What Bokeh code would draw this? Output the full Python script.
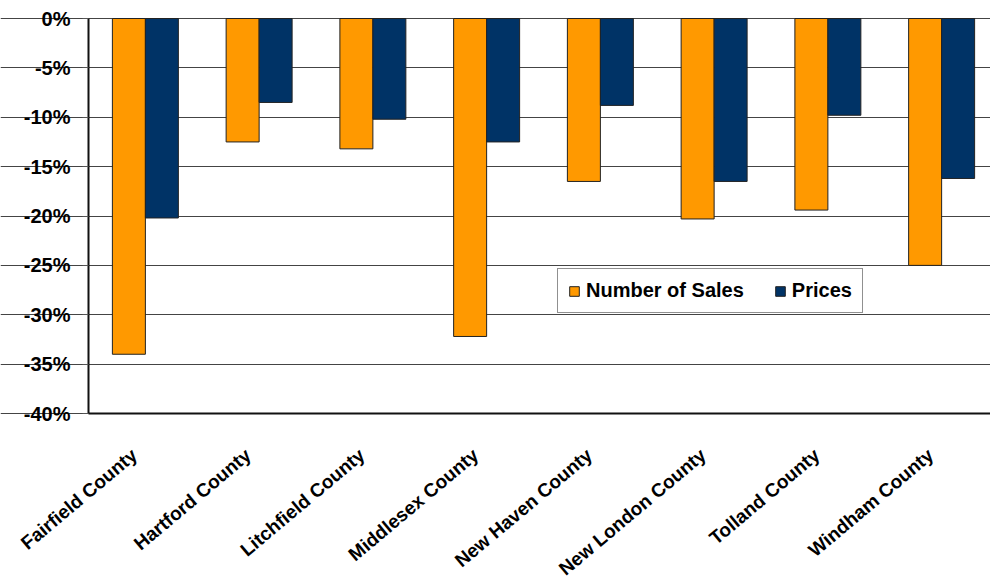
import math
from bokeh.plotting import figure
from bokeh.models import (ColumnDataSource, FixedTicker, PrintfTickFormatter, Range1d,
                          Legend, LegendItem, LabelSet, LinearAxis, Grid)
from bokeh.core.properties import value
from bokeh.embed import file_html
from bokeh.resources import INLINE

counties = ["Fairfield County", "Hartford County", "Litchfield County", "Middlesex County",
            "New Haven County", "New London County", "Tolland County", "Windham County"]
number_of_sales = [-34.0, -12.5, -13.2, -32.2, -16.5, -20.3, -19.4, -25.0]
prices = [-20.2, -8.5, -10.2, -12.5, -8.8, -16.5, -9.8, -16.2]
y_ticks = [0, -5, -10, -15, -20, -25, -30, -35, -40]
y_min, y_max = -40, 0

# layout (pixels)
W, H = 990, 579
LEFT, TOP = 88, 18          # where the plot area (axis corner) starts
PLOT_W, PLOT_H = 910, 395   # size of the plot area
n = len(counties)
cat_px = PLOT_W / n
px_per_unit = PLOT_H / (y_max - y_min)

x_start = -LEFT / cat_px
x_end = x_start + W / cat_px
y_top = y_max + TOP / px_per_unit
y_bottom = y_top - H / px_per_unit

centers = [i + 0.5 for i in range(n)]
bar_w = 0.29
src = ColumnDataSource(dict(center=centers, county=counties,
                            sales_x=[c - bar_w / 2 for c in centers],
                            prices_x=[c + bar_w / 2 for c in centers],
                            sales=number_of_sales, prices=prices, base=[y_min] * n))

p = figure(x_range=Range1d(x_start, x_end), y_range=Range1d(y_bottom, y_top),
           width=W, height=H, output_backend="svg", toolbar_location=None,
           x_axis_location=None, y_axis_location=None,
           min_border_left=0, min_border_top=0, min_border_right=0, min_border_bottom=0)
p.outline_line_color = None
# drop any default grids
p.center = [r for r in p.center if not isinstance(r, Grid)]

grid = Grid(dimension=1, ticker=FixedTicker(ticks=y_ticks), bounds=(0, n),
            grid_line_color="#444444", grid_line_width=1)
p.add_layout(grid)

r1 = p.vbar(x="sales_x", top=0, bottom="sales", width=bar_w, source=src,
            fill_color="#FF9900", line_color="#222222", line_width=1)
r2 = p.vbar(x="prices_x", top=0, bottom="prices", width=bar_w, source=src,
            fill_color="#003366", line_color="#222222", line_width=1)

# left value axis at the start of the first category
yaxis = LinearAxis(fixed_location=0, bounds=(y_min, y_max), ticker=FixedTicker(ticks=y_ticks),
                   formatter=PrintfTickFormatter(format="%d%%"))
yaxis.major_label_text_font = "Liberation Sans"
yaxis.major_label_text_font_style = "bold"
yaxis.major_label_text_font_size = "20px"
yaxis.major_label_text_color = "black"
yaxis.major_label_standoff = 12
yaxis.axis_line_color = "#111111"
yaxis.axis_line_width = 2
yaxis.major_tick_line_color = "#555555"
yaxis.major_tick_out = 6
yaxis.major_tick_in = 0
yaxis.minor_tick_line_color = None
p.add_layout(yaxis, "left")

# bottom category axis line at -40%
xaxis = LinearAxis(fixed_location=y_min, bounds=(0, n), ticker=FixedTicker(ticks=[]))
xaxis.axis_line_color = "#111111"
xaxis.axis_line_width = 2
xaxis.major_tick_line_color = None
xaxis.minor_tick_line_color = None
xaxis.major_label_text_font_size = "0px"
p.add_layout(xaxis, "below")

# category labels, rotated, below the bottom line
labels = LabelSet(x="center", y="base", text="county", source=src, angle=math.radians(40),
                  x_offset=-11, y_offset=-39, text_align="right", text_baseline="middle",
                  text_font=value("Liberation Sans"), text_font_style="bold",
                  text_font_size="19px", text_color="black")
p.add_layout(labels)

legend = Legend(items=[LegendItem(label="Number of Sales", renderers=[r1]),
                       LegendItem(label="Prices", renderers=[r2])],
                location=(557, H - 313), orientation="horizontal")
legend.border_line_color = "#222222"
legend.border_line_width = 1
legend.label_text_font = "Liberation Sans"
legend.label_text_font_style = "bold"
legend.label_text_font_size = "20px"
legend.label_text_color = "black"
legend.label_standoff = 6
legend.glyph_width = 12
legend.glyph_height = 12
legend.spacing = 30
legend.padding = 10
legend.margin = 0
legend.background_fill_alpha = 1
p.add_layout(legend)

open("out.html", "w").write(file_html(p, INLINE))
